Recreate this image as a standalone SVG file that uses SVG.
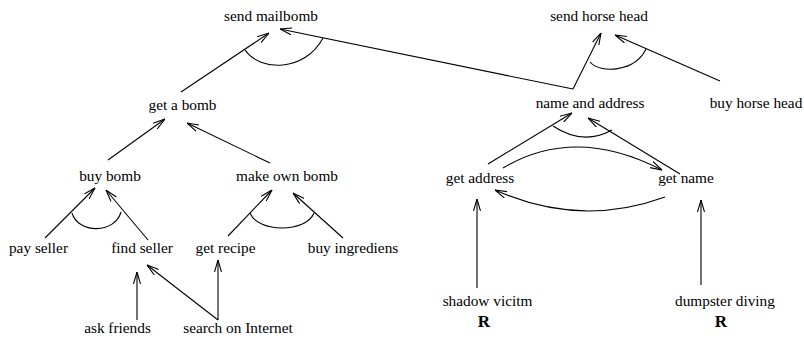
<svg xmlns="http://www.w3.org/2000/svg" width="804" height="339" viewBox="0 0 804 339">
<style>
text{font-family:"Liberation Serif","Times New Roman",serif;font-size:15.3px;fill:#000;text-anchor:middle}
text.r{font-weight:bold;font-size:17px}
.c{fill:none;stroke:#000;stroke-width:1.1}
.a{marker-end:url(#arr)}
</style>
<defs>
<marker id="arr" viewBox="0 0 12 8" refX="12" refY="4" markerWidth="12" markerHeight="8" markerUnits="userSpaceOnUse" orient="auto">
<path d="M0,0.5 L12,4 L0,7.5" fill="none" stroke="#000" stroke-width="1.1"/>
</marker>
</defs>
<rect width="804" height="339" fill="#fff"/>
<g id="connectors">
<line class="c a" x1="181" y1="92" x2="269" y2="33"/>
<line class="c a" x1="573" y1="89" x2="280" y2="29"/>
<line class="c a" x1="573" y1="89" x2="601" y2="33"/>
<line class="c a" x1="720" y1="81" x2="615" y2="35"/>
<line class="c a" x1="108" y1="160" x2="165" y2="119"/>
<line class="c a" x1="270" y1="163" x2="187" y2="123"/>
<line class="c a" x1="45" y1="238" x2="95" y2="188"/>
<line class="c a" x1="148" y1="240" x2="106" y2="190"/>
<line class="c a" x1="228" y1="236" x2="272" y2="190"/>
<line class="c a" x1="343" y1="238" x2="293" y2="193"/>
<line class="c a" x1="137" y1="320" x2="137" y2="272"/>
<line class="c a" x1="218" y1="320" x2="147" y2="265"/>
<line class="c a" x1="218" y1="320" x2="218" y2="260"/>
<line class="c a" x1="488" y1="164" x2="572" y2="113"/>
<line class="c a" x1="680" y1="174" x2="588" y2="118"/>
<path class="c a" d="M503,168 Q575,125 662,170"/>
<path class="c a" d="M665,197 Q580,228 495,190"/>
<line class="c a" x1="477" y1="288" x2="477" y2="199"/>
<line class="c a" x1="701" y1="285" x2="701" y2="200"/>
<path class="c" d="M245,50 C260,72 305,72 323,38"/>
<path class="c" d="M590,62 C600,74 635,72 646,49"/>
<path class="c" d="M553,126 Q583,146 612,130"/>
<path class="c" d="M72,213 C78,234 115,234 121,212"/>
<path class="c" d="M250,213 C258,233 306,233 314,213"/>
</g>
<g id="send-mailbomb"><text x="271" y="21">send mailbomb</text></g>
<g id="send-horse-head"><text x="599" y="21">send horse head</text></g>
<g id="get-a-bomb"><text x="182.5" y="110">get a bomb</text></g>
<g id="name-and-address"><text x="590" y="108">name and address</text></g>
<g id="buy-horse-head"><text x="756" y="108">buy horse head</text></g>
<g id="buy-bomb"><text x="110" y="181">buy bomb</text></g>
<g id="make-own-bomb"><text x="287" y="181">make own bomb</text></g>
<g id="get-address"><text x="480" y="183">get address</text></g>
<g id="get-name"><text x="686" y="183">get name</text></g>
<g id="pay-seller"><text x="38.5" y="253">pay seller</text></g>
<g id="find-seller"><text x="142" y="253">find seller</text></g>
<g id="get-recipe"><text x="225.5" y="253">get recipe</text></g>
<g id="buy-ingrediens"><text x="353" y="253">buy ingrediens</text></g>
<g id="shadow-vicitm"><text x="487.5" y="306">shadow vicitm</text><text class="r" x="484" y="327">R</text></g>
<g id="dumpster-diving"><text x="725" y="306">dumpster diving</text><text class="r" x="721" y="327">R</text></g>
<g id="ask-friends"><text x="117.5" y="333">ask friends</text></g>
<g id="search-on-internet"><text x="238" y="333">search on Internet</text></g>
</svg>
